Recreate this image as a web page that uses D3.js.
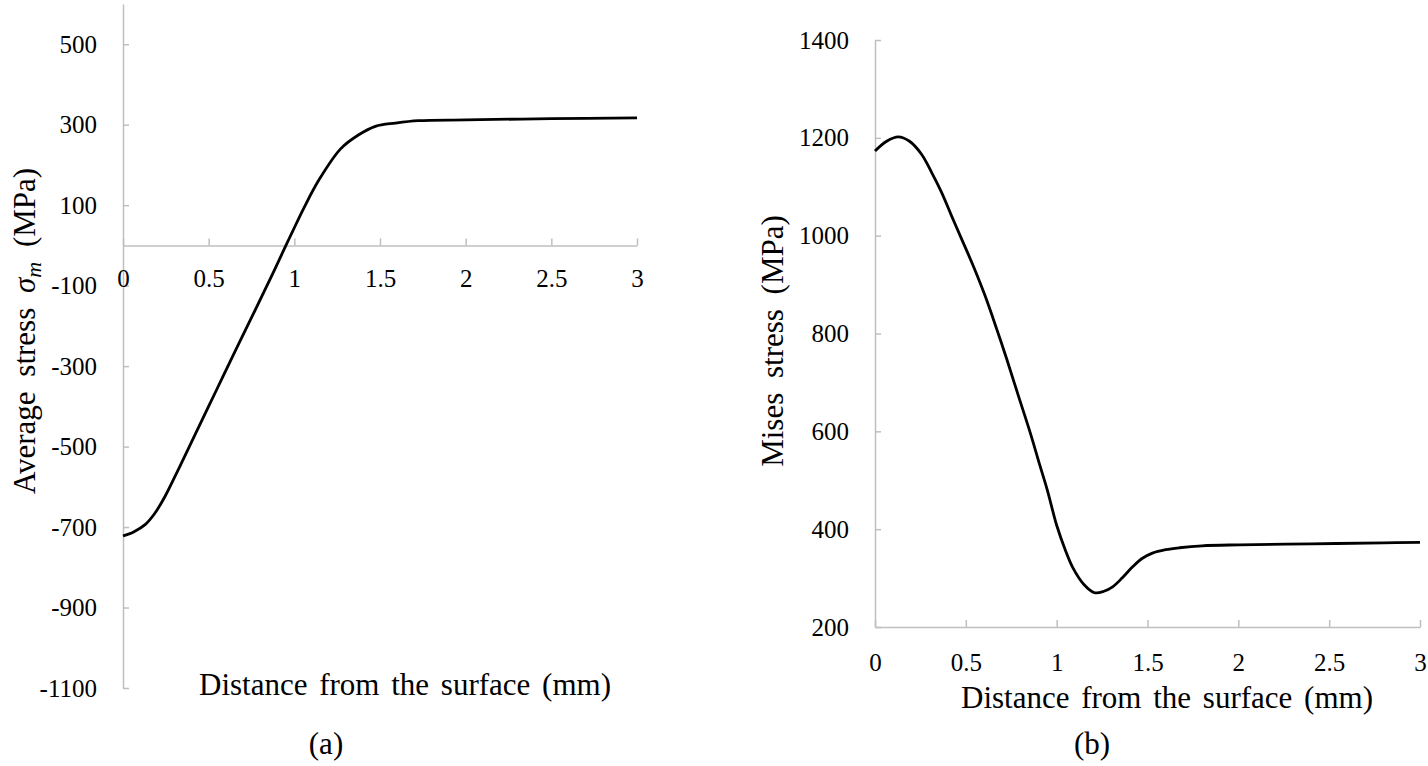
<!DOCTYPE html>
<html>
<head>
<meta charset="utf-8">
<script src="https://cdn.jsdelivr.net/npm/d3@7"></script>
<style>
  body { margin: 0; background: #fff; }
  svg { display: block; }
</style>
</head>
<body>
<div id="chart"></div>
<script>

  // distance from the surface (mm) for each panel
  const distA = [0, 0.062, 0.129, 0.187, 0.245, 0.332, 0.429, 0.545, 0.661, 0.777, 0.874, 0.951, 0.99, 1.057, 1.144, 1.27, 1.376, 1.473, 1.59, 1.725, 2.0, 2.5, 3.0]
  // average stress sigma_m (MPa)
  const avgStress = [-722, -712, -694, -665, -624, -549, -463, -360, -257, -156, -70, 0, 35, 94, 163, 240, 275, 296, 304, 310, 312, 315, 317]

  const distB = [0, 0.064, 0.128, 0.19, 0.257, 0.312, 0.367, 0.422, 0.477, 0.541, 0.606, 0.67, 0.725, 0.789, 0.853, 0.908, 0.95, 1.0, 1.05, 1.088, 1.15, 1.209, 1.26, 1.308, 1.36, 1.418, 1.47, 1.527, 1.6, 1.676, 1.8, 2.005, 2.4, 2.8, 3.0]
  // von Mises stress (MPa)
  const misesStress = [1173, 1193, 1202, 1193, 1166, 1129, 1088, 1040, 993, 938, 877, 809, 748, 673, 599, 530, 478, 408, 355, 322, 287, 270, 273, 282, 300, 323, 340, 351, 358, 362, 366, 368, 370, 372, 373]

  // ticks
  const xTicks = [0, 0.5, 1, 1.5, 2, 2.5, 3]
  const xTickLabels = ["0", "0.5", "1", "1.5", "2", "2.5", "3"]
  const yTicksA = [-1100, -900, -700, -500, -300, -100, 100, 300, 500]
  const yTickLabelsA = ["-1100", "-900", "-700", "-500", "-300", "-100", "100", "300", "500"]
  const yTicksB = [200, 400, 600, 800, 1000, 1200, 1400]
  const yTickLabelsB = ["200", "400", "600", "800", "1000", "1200", "1400"]

  const W = 1428, H = 766
  const axisColor = "#bfbfbf"
  const font = "'Liberation Serif', 'Times New Roman', serif"

  const svg = d3.select("#chart")
    .append("svg")
      .attr("width", W)
      .attr("height", H)
      .style("font-family", font)

  svg.append("rect").attr("width", W).attr("height", H).attr("fill", "#fff")

  function panel(opt) {
    const x = d3.scaleLinear().domain([0, 3]).range(opt.xRange)
    const y = d3.scaleLinear().domain(opt.yDomain).range(opt.yRange)

    // y axis, ticks pointing into the plot
    const gy = svg.append("g")
      .attr("transform", `translate(${opt.xRange[0]},0)`)
      .call(d3.axisLeft(y)
        .tickValues(opt.yTicks)
        .tickFormat((d, i) => opt.yLabels[i])
        .tickSizeInner(-6)
        .tickSizeOuter(0)
        .tickPadding(26))
    gy.selectAll("text").style("font-size", "25px").style("font-family", font).attr("fill", "#000")

    // x axis crossing at opt.xAt
    const gx = svg.append("g")
      .attr("transform", `translate(0,${y(opt.xAt)})`)
      .call(d3.axisBottom(x)
        .tickValues(xTicks)
        .tickFormat((d, i) => xTickLabels[i])
        .tickSizeInner(-7)
        .tickSizeOuter(0)
        .tickPadding(opt.xPad))
    gx.selectAll("text").style("font-size", "25px").style("font-family", font).attr("fill", "#000")

    svg.selectAll(".domain, .tick line")
      .attr("stroke", axisColor)
      .attr("stroke-width", 1.5)

    // the curve
    svg.append("path")
      .datum(opt.xs.map((d, i) => [d, opt.ys[i]]))
      .attr("fill", "none")
      .attr("stroke", "#000")
      .attr("stroke-width", 2.8)
      .attr("stroke-linejoin", "round")
      .attr("d", d3.line()
        .curve(d3.curveCatmullRom.alpha(0.5))
        .x(d => x(d[0]))
        .y(d => y(d[1])))

    // axis titles
    svg.append("text")
      .attr("x", opt.xTitlePos[0])
      .attr("y", opt.xTitlePos[1])
      .attr("text-anchor", "middle")
      .style("font-size", "31px")
      .style("word-spacing", "4px")
      .text("Distance from the surface (mm)")

    const yt = svg.append("text")
      .attr("transform", `translate(${opt.yTitlePos[0]},${opt.yTitlePos[1]}) rotate(-90)`)
      .attr("text-anchor", "middle")
      .style("font-size", "31px")
      .style("word-spacing", "7px")
    opt.yTitle(yt)

    svg.append("text")
      .attr("x", opt.capPos[0])
      .attr("y", opt.capPos[1])
      .attr("text-anchor", "middle")
      .style("font-size", "31px")
      .text(opt.caption)
  }

  panel({
    xs: distA, ys: avgStress,
    xRange: [123, 637], yDomain: [-1100, 600], yRange: [688, 4],
    yTicks: yTicksA, yLabels: yTickLabelsA, xAt: 0, xPad: 24,
    xTitlePos: [405, 695], yTitlePos: [35, 331], capPos: [326, 754],
    caption: "(a)",
    yTitle: t => {
      t.append("tspan").text("Average stress ")
      t.append("tspan").style("font-style", "italic").text("σ")
      t.append("tspan").style("font-style", "italic").style("font-size", "22px").attr("dy", 6).text("m")
      t.append("tspan").attr("dy", -6).text(" (MPa)")
    }
  })

  panel({
    xs: distB, ys: misesStress,
    xRange: [875, 1420], yDomain: [200, 1400], yRange: [627, 40],
    yTicks: yTicksB, yLabels: yTickLabelsB, xAt: 200, xPad: 26,
    xTitlePos: [1167, 708], yTitlePos: [783, 341], capPos: [1092, 754],
    caption: "(b)",
    yTitle: t => t.text("Mises stress (MPa)")
  })

</script>
</body>
</html>
